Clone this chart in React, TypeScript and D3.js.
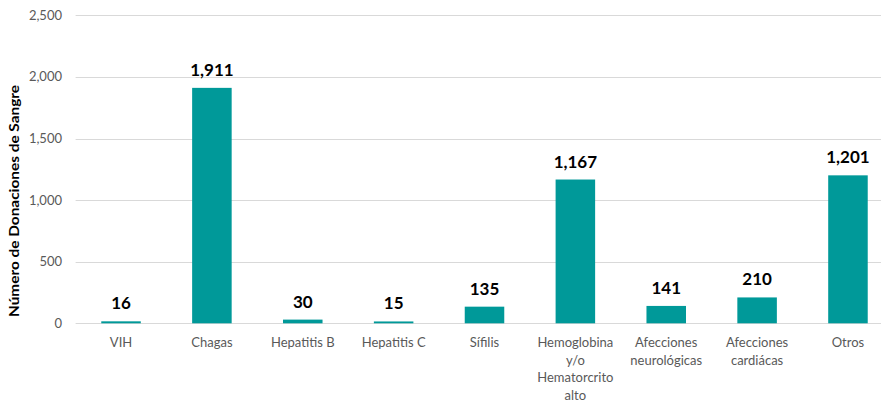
import React from "react";
import * as d3 from "d3";

const categories = ["VIH", "Chagas", "Hepatitis B", "Hepatitis C", "Sífilis", "Hemoglobina y/o Hematorcrito alto", "Afecciones neurológicas", "Afecciones cardiácas", "Otros"];
const categoryLines = [["VIH"], ["Chagas"], ["Hepatitis B"], ["Hepatitis C"], ["Sífilis"], ["Hemoglobina", "y/o", "Hematorcrito", "alto"], ["Afecciones", "neurológicas"], ["Afecciones", "cardiácas"], ["Otros"]];
const values = [16, 1911, 30, 15, 135, 1167, 141, 210, 1201];
const yTicks = [0, 500, 1000, 1500, 2000, 2500];
const yTitle = "Número de Donaciones de Sangre";

const W = 884;
const H = 405;
const FONT = "Lato, 'Open Sans', sans-serif";

export default function App() {
  const x = d3.scaleBand<string>().domain(categories).range([75.6, 893.4]).paddingInner(0.565).paddingOuter(0.2825);
  const y = d3.scaleLinear().domain([0, 2500]).range([323.3, 15.3]);
  const fmt = d3.format(",");
  const gridEnd = 881;
  return (
    <svg width={W} height={H} style={{ position: "absolute", left: 0, top: 0, background: "#fff" }}>
      {yTicks.map((t) => (
        <g key={t}>
          <line x1={75.6} x2={gridEnd} y1={Math.round(y(t)) + 0.5} y2={Math.round(y(t)) + 0.5} stroke="#d9d9d9" strokeWidth={1} />
          <text x={62} y={y(t)} dy="0.35em" textAnchor="end" fontFamily={FONT} fontSize={13} fill="#595959">{fmt(t)}</text>
        </g>
      ))}
      {categories.map((c, i) => (
        <g key={c}>
          <rect x={x(c)} y={y(values[i])} width={x.bandwidth()} height={y(0) - y(values[i])} fill="#009999" />
          <text x={x(c)! + x.bandwidth() / 2} y={y(values[i]) - 12} textAnchor="middle" fontFamily={FONT} fontSize={17} fontWeight="bold" fill="#000">{fmt(values[i])}</text>
          <text x={x(c)! + x.bandwidth() / 2} y={347} textAnchor="middle" fontFamily={FONT} fontSize={13} fill="#595959">
            {categoryLines[i].map((l, j) => (
              <tspan key={j} x={x(c)! + x.bandwidth() / 2} dy={j === 0 ? 0 : 17.7}>{l}</tspan>
            ))}
          </text>
        </g>
      ))}
      <text transform={`translate(18.5,201) rotate(-90)`} textAnchor="middle" fontFamily={FONT} fontSize={13.4} fontWeight="bold" fill="#000" textLength={232} lengthAdjust="spacingAndGlyphs">{yTitle}</text>
    </svg>
  );
}
